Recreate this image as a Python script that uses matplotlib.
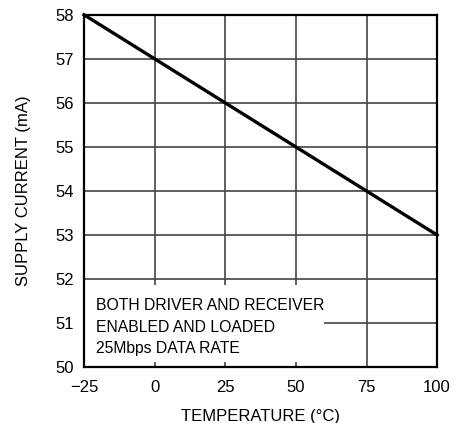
import matplotlib
matplotlib.use("Agg")
import matplotlib.pyplot as plt
from matplotlib.patches import Rectangle
from matplotlib import font_manager

temperature = [-25, 0, 25, 50, 75, 100]
supply_current = [58, 57, 56, 55, 54, 53]
x_ticks = [-25, 0, 25, 50, 75, 100]
y_ticks = [50, 51, 52, 53, 54, 55, 56, 57, 58]
note_lines = ["BOTH DRIVER AND RECEIVER", "ENABLED AND LOADED", "25Mbps DATA RATE"]

names = {f.name for f in font_manager.fontManager.ttflist}
fam = "Liberation Sans Narrow" if "Liberation Sans Narrow" in names else "Liberation Sans"
plt.rcParams['font.family'] = [fam, 'DejaVu Sans']

fs = 12
fig = plt.figure(figsize=(4.67, 4.23), dpi=100)
ax = fig.add_axes([0.180, 0.132, 0.756, 0.833])
ax.set_xlim(-25, 100)
ax.set_ylim(50, 58)
ax.set_xticks(x_ticks)
ax.set_yticks(y_ticks)
ax.set_xticklabels([f"{v}".replace("-", "\u2212") for v in x_ticks], fontsize=fs)
ax.set_yticklabels([str(v) for v in y_ticks], fontsize=fs)
ax.tick_params(axis="x", length=0, pad=9)
ax.tick_params(axis="y", length=0, pad=7)
ax.set_axisbelow(True)
ax.grid(True, color="#444444", linewidth=1.2)
for s in ax.spines.values():
    s.set_linewidth(1.6)
    s.set_color("black")
    s.set_zorder(5)

ax.plot(temperature, supply_current, color="black", linewidth=2.4, zorder=4, clip_on=False)

ax.add_patch(Rectangle((-25, 50.11), 85, 1.75, facecolor="white", edgecolor="none", zorder=1.5))
for i, t in enumerate(note_lines):
    ax.text(-20.8, 51.39 - i * 0.48, t, fontsize=11.3, va="center", ha="left", zorder=3)

ax.set_xlabel("TEMPERATURE (°C)", fontsize=fs, labelpad=10)
ax.set_ylabel("SUPPLY CURRENT (mA)", fontsize=fs, labelpad=18)

fig.savefig("out.png", dpi=100)
